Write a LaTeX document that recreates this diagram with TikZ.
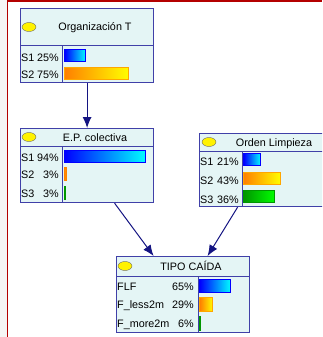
\documentclass[tikz,border=0pt]{standalone}
\usepackage{fontspec}
\setmainfont{Liberation Sans}
\usetikzlibrary{shapes.geometric, positioning, arrows.meta}
\definecolor{boxfill}{RGB}{228,245,245}
\definecolor{boxline}{RGB}{64,64,168}
\definecolor{linknavy}{RGB}{20,20,130}
\definecolor{framered}{RGB}{180,0,0}
\definecolor{barorange}{RGB}{255,128,0}
\definecolor{bargreen}{RGB}{0,150,0}

\begin{document}
\begin{tikzpicture}[x=1pt, y=-1pt, every node/.style={inner sep=0pt, font=\fontsize{10.8}{12}\selectfont},
 box/.style={draw=boxline, fill=boxfill, line width=1.2pt, anchor=north west, minimum width=133pt},
 sep/.style={draw=boxline, line width=1pt},
 dot/.style={ellipse, draw=black!60, fill=yellow, minimum width=14pt, minimum height=9pt},
 title/.style={anchor=base},
 lbl/.style={anchor=base west},
 pct/.style={anchor=base east},
 bar/.style={anchor=north west, line width=0.8pt, minimum height=12pt},
 sbar/.style={bar, draw=blue, left color=blue, right color=cyan},
 obar/.style={bar, draw=barorange!70!yellow, left color=barorange, right color=yellow},
 gbar/.style={bar, draw=bargreen, left color=bargreen, right color=green},
 link/.style={draw=linknavy, line width=1pt, -{Latex[length=11pt, width=9pt]}}]
 \useasboundingbox (0,0) rectangle (322,337);
 \clip (0,0) rectangle (322,337);
 \fill[black!4] (0,0) rectangle (7,337);
 \draw[framered, line width=1.5pt] (7.5,337) -- (7.5,1.2) -- (322,1.2);

 \node[box, minimum height=74pt] (org) at (20,8) {};
 \draw[sep] (20,46) -- (153,46) (62,46) -- (62,82);
 \node[dot] (org-dot) at (29,27) {};
 \node[title] (org-t) at (95,31) {Organización T};
 \foreach \s/\p/\y [count=\i] in {S1/25/61, S2/75/78} {
  \node[lbl] (org-s\i) at (21,\y) {\s};
  \node[pct] (org-p\i) at (59,\y) {\p\%};
 }
 \node[sbar, minimum width=21pt] (org-b1) at (64.4,49.4) {};
 \node[obar, minimum width=64pt] (org-b2) at (64.4,67.4) {};

 \node[box, minimum height=74pt] (ep) at (20,128) {};
 \draw[sep] (20,146) -- (153,146) (62,146) -- (62,202);
 \node[dot] (ep-dot) at (29,137) {};
 \node[title] (ep-t) at (95,141) {E.P. colectiva};
 \foreach \s/\p/\y [count=\i] in {S1/94/161.5, S2/3/178.5, S3/3/197.5} {
  \node[lbl] (ep-s\i) at (21,\y) {\s};
  \node[pct] (ep-p\i) at (59,\y) {\p\%};
 }
 \node[sbar, minimum width=81pt] (ep-b1) at (64.4,150.4) {};
 \node[obar, draw=barorange, minimum width=2pt, minimum height=13pt] (ep-b2) at (64.4,167.4) {};
 \node[gbar, minimum width=1pt, minimum height=13pt] (ep-b3) at (64.4,186.4) {};

 \node[box, minimum height=73pt] (ol) at (199,133) {};
 \draw[sep] (199,151) -- (332,151) (242,151) -- (242,206);
 \node[dot] (ol-dot) at (209,142) {};
 \node[title] (ol-t) at (274,146) {Orden Limpieza};
 \foreach \s/\p/\y [count=\i] in {S1/21/165, S2/43/184, S3/36/203} {
  \node[lbl] (ol-s\i) at (200,\y) {\s};
  \node[pct] (ol-p\i) at (239,\y) {\p\%};
 }
 \node[sbar, minimum width=17pt] (ol-b1) at (243.4,153.4) {};
 \node[obar, minimum width=37pt] (ol-b2) at (243.4,172.4) {};
 \node[gbar, minimum width=31pt] (ol-b3) at (243.4,190.4) {};

 \node[box, minimum height=76pt] (tc) at (116,256) {};
 \draw[sep] (116,276) -- (249,276) (198,276) -- (198,332);
 \node[dot] (tc-dot) at (125,266) {};
 \node[title] (tc-t) at (191,270.5) {TIPO CAÍDA};
 \foreach \s/\p/\y [count=\i] in {FLF/65/290, F\_less2m/29/308.5, F\_more2m/6/327} {
  \node[lbl] (tc-s\i) at (117,\y) {\s};
  \node[pct] (tc-p\i) at (194,\y) {\p\%};
 }
 \node[sbar, minimum width=31pt, minimum height=13pt] (tc-b1) at (199.4,279.4) {};
 \node[obar, minimum width=13pt, minimum height=14pt] (tc-b2) at (199.4,297.4) {};
 \node[gbar, minimum width=1pt, minimum height=14pt] (tc-b3) at (199.4,316.4) {};

 \draw[link] (org.south) -- (ep.north);
 \draw[link] ([xshift=27.5pt]ep.south) -- ([xshift=-29.5pt]tc.north);
 \draw[link] ([xshift=-28.5pt]ol.south) -- ([xshift=24.5pt]tc.north);
\end{tikzpicture}
\end{document}
